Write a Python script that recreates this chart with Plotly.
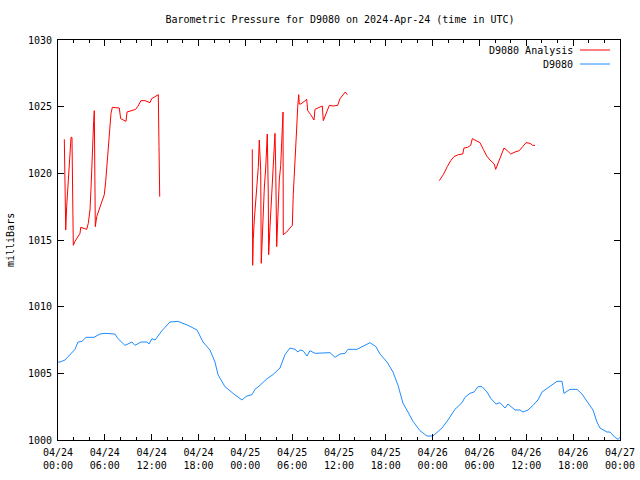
import pandas as pd
import plotly.graph_objects as go

BASE = pd.Timestamp("2024-04-24 00:00")

# D9080 observed pressure (hours since 2024-04-24 00:00 UTC, mb)
obs_hours = [0.0, 0.26, 0.90, 1.54, 2.18, 2.56, 3.07, 3.59, 4.61, 5.38, 6.02, 7.30, 7.69, 8.58,
             9.48, 9.86, 10.63, 11.40, 11.66, 12.04, 12.43, 13.32, 14.35, 15.37, 16.65, 17.81,
             18.58, 19.47, 20.11, 20.50, 21.39, 22.42, 23.57, 23.96, 24.21, 24.85, 25.24, 25.88,
             26.78, 27.54, 28.44, 29.08, 29.72, 30.36, 30.75, 31.00, 31.39, 31.90, 32.28, 32.92,
             33.82, 34.46, 34.85, 35.49, 36.13, 36.77, 37.15, 38.31, 39.07, 39.97, 40.74, 41.25,
             42.15, 42.92, 43.56, 44.20, 44.84, 45.48, 46.37, 47.27, 48.04, 49.19, 49.96, 50.86,
             51.76, 52.14, 52.78, 53.30, 53.81, 54.32, 54.96, 55.47, 56.11, 56.62, 57.27, 57.65,
             58.55, 59.19, 59.57, 60.21, 60.85, 61.49, 62.01, 62.78, 63.41, 63.93, 64.57, 64.82,
             65.59, 66.49, 67.13, 67.89, 68.54, 69.05, 69.43, 70.33, 70.71, 71.35, 71.74, 72.0]
obs_mb = [1005.85, 1005.85, 1006.0, 1006.4, 1006.8, 1007.35, 1007.4, 1007.7, 1007.7, 1007.95,
          1008.0, 1007.95, 1007.6, 1007.1, 1007.35, 1007.1, 1007.35, 1007.35, 1007.2, 1007.6,
          1007.5, 1008.2, 1008.85, 1008.9, 1008.6, 1008.25, 1007.35, 1006.75, 1005.85, 1004.9,
          1004.0, 1003.5, 1003.0, 1003.2, 1003.3, 1003.4, 1003.8, 1004.1, 1004.6, 1004.9, 1005.4,
          1006.4, 1006.9, 1006.8, 1006.6, 1006.75, 1006.7, 1006.3, 1006.7, 1006.5, 1006.5, 1006.5,
          1006.55, 1006.2, 1006.45, 1006.5, 1006.8, 1006.8, 1007.05, 1007.3, 1007.0, 1006.45,
          1005.85, 1005.1, 1004.1, 1002.75, 1002.1, 1001.4, 1000.7, 1000.3, 1000.3, 1000.9,
          1001.5, 1002.3, 1002.8, 1003.2, 1003.5, 1003.6, 1004.0, 1004.0, 1003.6, 1003.1, 1002.7,
          1002.8, 1002.4, 1002.7, 1002.25, 1002.25, 1002.1, 1002.25, 1002.6, 1003.0, 1003.6,
          1003.9, 1004.2, 1004.4, 1004.4, 1003.5, 1003.8, 1003.8, 1003.45, 1002.85, 1002.25,
          1001.35, 1000.9, 1000.6, 1000.6, 1000.2, 1000.05, 1000.2]

# D9080 Analysis, three separate segments
ana1_hours = [0.81, 0.90, 0.99, 1.11, 1.24, 1.32, 1.45, 1.67, 1.79, 1.92, 1.96, 2.18, 2.52, 2.82,
              2.91, 3.68, 3.88, 4.10, 4.23, 4.32, 4.45, 4.57, 4.65, 4.70, 4.78, 4.96, 5.16, 5.38,
              5.60, 5.93, 6.11, 6.24, 6.37, 6.44, 6.57, 6.79, 6.96, 7.39, 7.85, 8.03, 8.37, 8.71,
              8.84, 9.44, 9.95, 10.21, 10.63, 11.15, 11.79, 12.00, 12.43, 12.85, 12.94, 13.03]
ana1_mb = [1022.55, 1019.1, 1015.75, 1017.5, 1018.6, 1019.75, 1020.9, 1022.7, 1022.7, 1018.6,
           1014.6, 1014.9, 1015.25, 1015.5, 1015.95, 1015.8, 1016.25, 1017.25, 1018.9, 1020.55,
           1022.25, 1023.9, 1024.7, 1020.4, 1016.0, 1016.75, 1017.1, 1017.5, 1017.9, 1018.4,
           1019.4, 1020.4, 1021.5, 1022.4, 1023.4, 1024.5, 1024.95, 1024.95, 1024.9, 1024.1,
           1024.0, 1023.9, 1024.6, 1024.7, 1024.8, 1025.0, 1025.45, 1025.45, 1025.3, 1025.6,
           1025.75, 1025.9, 1022.0, 1018.25]

ana2_hours = [24.89, 24.94, 25.02, 25.15, 25.33, 25.46, 25.66, 25.79, 25.97, 26.04, 26.17, 26.30,
              26.43, 26.61, 26.81, 26.94, 26.99, 27.16, 27.29, 27.38, 27.54, 27.67, 27.80, 27.89,
              28.02, 28.15, 28.35, 28.53, 28.70, 28.83, 28.86, 29.30, 29.72, 30.02, 30.14, 30.36,
              30.58, 30.71, 30.84, 30.91, 31.13, 31.86, 31.99, 32.37, 32.80, 32.92, 33.57, 33.86,
              33.99, 34.42, 34.76, 35.27, 35.83, 36.13, 36.55, 36.81, 37.06]
ana2_mb = [1021.8, 1013.1, 1015.1, 1016.5, 1017.9, 1019.1, 1020.45, 1022.5, 1020.2, 1013.25,
           1015.25, 1017.25, 1018.9, 1020.4, 1022.95, 1018.5, 1013.9, 1016.0, 1017.4, 1018.9,
           1020.3, 1021.6, 1023.0, 1020.6, 1014.5, 1016.5, 1019.5, 1020.6, 1022.4, 1024.6,
           1015.4, 1015.6, 1015.9, 1016.1, 1018.4, 1020.5, 1023.4, 1025.0, 1025.9, 1025.2,
           1025.2, 1025.55, 1024.7, 1024.4, 1024.0, 1024.8, 1025.0, 1025.05, 1023.95, 1024.55,
           1025.1, 1025.05, 1025.1, 1025.6, 1025.9, 1026.1, 1025.9]

ana3_hours = [48.85, 49.36, 49.87, 50.31, 50.73, 51.28, 51.85, 52.01, 52.49, 52.87, 53.08, 53.42,
              53.64, 54.06, 54.49, 54.92, 55.34, 55.69, 55.89, 56.07, 56.41, 56.71, 57.14, 57.56,
              58.00, 58.55, 59.10, 59.53, 59.96, 60.47, 60.81, 61.11]
ana3_mb = [1019.45, 1019.9, 1020.5, 1020.95, 1021.25, 1021.4, 1021.45, 1021.9, 1021.95, 1022.1,
           1022.6, 1022.5, 1022.4, 1022.3, 1021.8, 1021.3, 1021.0, 1020.8, 1020.7, 1020.3,
           1020.8, 1021.25, 1021.9, 1021.7, 1021.45, 1021.6, 1021.7, 1022.0, 1022.3, 1022.25,
           1022.1, 1022.1]

TITLE = "Barometric Pressure for D9080 on 2024-Apr-24 (time in UTC)"
RED = "#ff0000"
BLUE = "#1e8cff"
FONT = "DejaVu Sans Mono"


def to_time(hours):
    return list(BASE + pd.to_timedelta(hours, unit="h"))


ana_x = to_time(ana1_hours) + [None] + to_time(ana2_hours) + [None] + to_time(ana3_hours)
ana_y = ana1_mb + [None] + ana2_mb + [None] + ana3_mb

fig = go.Figure()
fig.add_trace(go.Scatter(x=ana_x, y=ana_y, mode="lines", name="D9080 Analysis",
                         line=dict(color=RED, width=1), connectgaps=False, showlegend=False))
fig.add_trace(go.Scatter(x=to_time(obs_hours), y=obs_mb, mode="lines", name="D9080",
                         line=dict(color=BLUE, width=1), showlegend=False))

L, R, T, B = 58, 20, 40, 40
W, H = 640, 480
pw, ph = W - L - R, H - T - B

def px_x(x):
    return (x - L) / pw

def px_y(y):
    return (H - B - y) / ph

# Manual legend (text left of sample line, as in reference)
for label, color, ypx in [("D9080 Analysis", RED, 50), ("D9080", BLUE, 64)]:
    fig.add_annotation(x=px_x(575), y=px_y(ypx), xref="paper", yref="paper", text=label,
                       showarrow=False, xanchor="right", yanchor="middle",
                       font=dict(family=FONT, size=10, color="black"))
    fig.add_shape(type="line", xref="paper", yref="paper", x0=px_x(580), x1=px_x(610),
                  y0=px_y(ypx), y1=px_y(ypx), line=dict(color=color, width=1))

fig.add_annotation(x=px_x(10), y=0.5, xref="paper", yref="paper", text="milliBars",
                   textangle=-90, showarrow=False, xanchor="center", yanchor="middle",
                   font=dict(family=FONT, size=10, color="black"))

fig.update_layout(
    width=W, height=H,
    margin=dict(l=L, r=R, t=T, b=B, autoexpand=False),
    paper_bgcolor="white", plot_bgcolor="white",
    font=dict(family=FONT, size=10, color="black"),
    title=dict(text=TITLE, x=px_x(340), xref="paper", xanchor="center",
               y=1 - 19 / H, yanchor="middle", font=dict(family=FONT, size=10, color="black")),
    showlegend=False,
)
fig.update_xaxes(
    type="date", automargin=False,
    range=[BASE, BASE + pd.Timedelta(hours=72)],
    dtick=6 * 3600 * 1000, tick0=BASE,
    tickformat="%m/%d<br>%H:%M",
    ticks="inside", ticklen=6, tickcolor="black", tickwidth=1,
    minor=dict(dtick=2 * 3600 * 1000, ticks="inside", ticklen=3, tickcolor="black"),
    showline=True, linecolor="black", linewidth=1, mirror="allticks",
    showgrid=False, zeroline=False, ticklabelstandoff=3,
    tickfont=dict(family=FONT, size=10, color="black"),
)
fig.update_yaxes(
    range=[1000, 1030], dtick=5, tick0=1000, automargin=False,
    ticks="inside", ticklen=6, tickcolor="black", tickwidth=1,
    showline=True, linecolor="black", linewidth=1, mirror="allticks",
    showgrid=False, zeroline=False, ticklabelstandoff=3,
    tickfont=dict(family=FONT, size=10, color="black"),
)

fig.write_html("out.html", config={"displayModeBar": False},
               post_script="document.body.style.margin='0px';")
